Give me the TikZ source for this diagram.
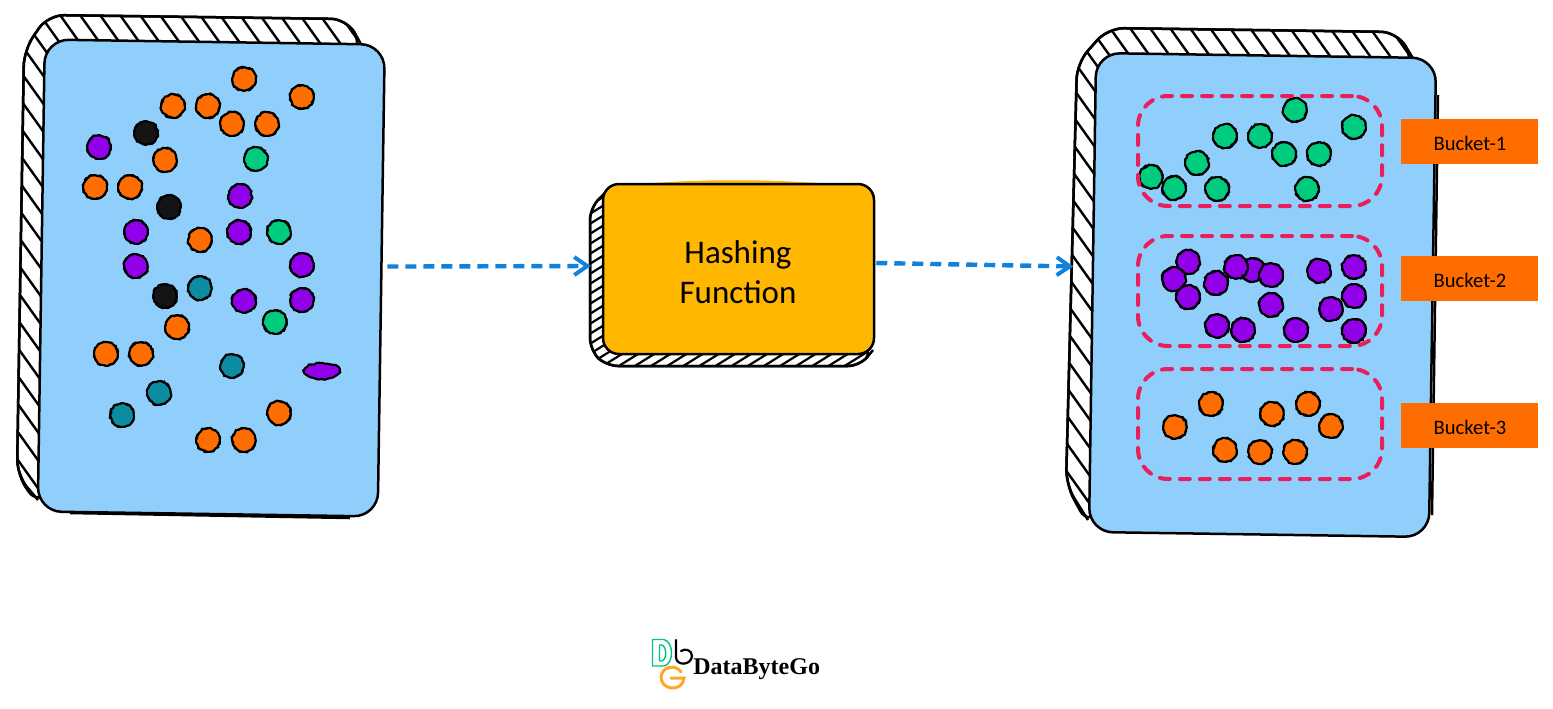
\documentclass[tikz,border=0pt]{standalone}
\usepackage{fontspec}
\setmainfont{Liberation Serif}
\newfontfamily\sketchfont{Carlito}
\usetikzlibrary{arrows.meta,calc,decorations.pathmorphing,shapes.geometric}
\definecolor{panelblue}{HTML}{90CFFC}
\definecolor{amberbox}{HTML}{FFB700}
\definecolor{dotgreen}{HTML}{00CC80}
\definecolor{dotpurple}{HTML}{9100E8}
\definecolor{dotorange}{HTML}{FF6D00}
\definecolor{dotteal}{HTML}{0C8CA0}
\definecolor{dotblack}{HTML}{141414}
\definecolor{bucketred}{HTML}{E91E5A}
\definecolor{flowblue}{HTML}{1281D9}
\definecolor{logogreen}{HTML}{00C27A}
\definecolor{logoorange}{HTML}{FFA726}
\tikzset{
  sketchline/.style={line width=1.25pt,draw=black,line join=round},
  hatchline/.style={line width=1.2pt,draw=black},
  panelbox/.style={sketchline,fill=panelblue,rectangle,rounded corners=12pt,inner sep=0pt,minimum width=170pt,rotate=-0.85},
  ball/.style={circle,inner sep=0pt,minimum size=11.6pt,line width=1.05pt,draw=black,
    decorate,decoration={random steps,segment length=1.3pt,amplitude=.4pt}},
  roughring/.style={line width=.7pt,draw=black,decorate,decoration={random steps,segment length=1.1pt,amplitude=.45pt}},
  bucketzone/.style={rectangle,rounded corners=15pt,inner sep=0pt,minimum width=122pt,minimum height=55pt,
    draw=bucketred,line width=2pt,dash pattern=on 5pt off 5pt,line cap=round},
  bucketlabel/.style={rectangle,fill=dotorange,inner sep=0pt,minimum width=68.5pt,minimum height=22.5pt},
  labeltext/.style={inner sep=0pt,font=\sketchfont\fontsize{10.3}{12}\selectfont},
  flow/.style={draw=flowblue,line width=2.2pt,dash pattern=on 5.5pt off 3.5pt,-{Straight Barb[length=6.5pt,width=9pt,line width=2pt]}},
  shade edge/.style={sketchline,fill=white,rounded corners=8pt},
}
\newcommand{\balls}[3]{\foreach \px/\py [count=\n] in {#3}{\node[ball,fill=#1] (#2\n) at (\px,\py) {};\draw[roughring] (#2\n.center) circle[radius=5.9pt];}}
\begin{document}
\begin{tikzpicture}[x=0.5pt,y=-0.5pt]
\useasboundingbox (0,0) rectangle (1553,708);

% left hatched edge
\path[shade edge] (362,46) -- (347,19) -- (48,15) -- (24,50) -- (17,475) -- (38,505) -- cycle;
\begin{scope}
  \clip[rounded corners=8pt] (362,46) -- (347,19) -- (48,15) -- (24,50) -- (17,475) -- (38,505) -- cycle;
  \foreach \k in {-15,...,19}{\draw[hatchline] (0,{-69+28*\k}) -- (400,{-69+28*\k+560});}
\end{scope}
\draw[sketchline,rounded corners=8pt] (362,46) -- (347,19) -- (48,15) -- (24,50) -- (17,475) -- (38,500);
\draw[sketchline] (70,513) -- (350,518);
\node[panelbox,minimum height=236pt] (source) at (211.25,278) {};

% right hatched edge
\path[shade edge] (1414,60) -- (1397,32) -- (1108,28) -- (1077,63) -- (1066,485) -- (1088,525) -- cycle;
\begin{scope}
  \clip[rounded corners=8pt] (1414,60) -- (1397,32) -- (1108,28) -- (1077,63) -- (1066,485) -- (1088,525) -- cycle;
  \foreach \k in {-15,...,20}{\draw[hatchline] (1050,{-56+28*\k}) -- (1450,{-56+28*\k+560});}
\end{scope}
\draw[sketchline,rounded corners=8pt] (1414,60) -- (1397,32) -- (1108,28) -- (1077,63) -- (1066,485) -- (1088,520);
\draw[sketchline] (1438,95) -- (1432,515);
\node[panelbox,minimum height=239.5pt] (target) at (1262.5,295) {};

% hashing box
\path[shade edge,rounded corners=6pt] (606,192) -- (590,208) -- (590,350) -- (606,366) -- (860,366) -- (873,350) -- cycle;
\begin{scope}
  \clip[rounded corners=6pt] (606,192) -- (590,208) -- (590,350) -- (606,366) -- (860,366) -- (873,350) -- cycle;
  \foreach \k in {0,...,38}{\draw[hatchline,line width=1.1pt] (580,{190+10*\k}) -- (880,{190+10*\k-186});}
\end{scope}
\draw[sketchline,rounded corners=6pt] (606,192) -- (590,208) -- (590,350) -- (606,366) -- (860,366) -- (873,350);
\fill[amberbox] (640,184) .. controls (700,179) and (770,179) .. (830,184) -- cycle;
\node[sketchline,fill=amberbox,rectangle,rounded corners=8pt,inner sep=0pt,minimum width=135.5pt,minimum height=85pt] (hash) at (738.5,269) {};
\node[align=center,inner sep=0pt,font=\sketchfont\fontsize{16.5}{20}\selectfont] (hashtext) at (738,272) {Hashing\\Function};

% dots in the source set
\balls{dotorange}{so}{244/79,173/106,208/106,232/124,267/124,302/97,165/160,95/187,130/187,200/240,177/327,106/354,141/354,279/413,208/440,244/440}
\balls{dotblack}{sk}{146/133,169/207,165/296}
\balls{dotpurple}{sp}{99/147,240/196,136/232,239/232,136/266,302/265,244/301,302/300}
\node[ball,fill=dotpurple,minimum size=0pt,ellipse,minimum width=18pt,minimum height=8pt] (lonepurple) at (322,371) {};
\balls{dotgreen}{sg}{256/159,279/232,275/322}
\balls{dotteal}{st}{200/288,232/366,159/393,122/415}

% dots in the buckets
\balls{dotgreen}{g}{1295/110,1354/127,1225/136,1260/136,1284/154,1319/154,1197/163,1151/177,1174/188,1217/189,1307/189}
\balls{dotpurple}{p}{1253/270,1188/262,1174/279,1188/297,1216/283,1236/267,1271/275,1319/271,1354/267,1354/296,1331/309,1271/305,1217/326,1243/330,1296/330,1354/331}
\balls{dotorange}{o}{1211/404,1175/427,1272/414,1308/404,1331/426,1225/450,1260/452,1295/452}

% bucket outlines and labels
\node[bucketzone] (zone1) at (1260,151) {};
\node[bucketzone] (zone2) at (1260,291) {};
\node[bucketzone] (zone3) at (1260,424) {};
\node[bucketlabel] (label1) at (1469.5,141.5) {};
\node[bucketlabel] (label2) at (1469.5,278.5) {};
\node[bucketlabel] (label3) at (1469.5,425.5) {};
\node[labeltext] (text1) at (1470,143.5) {Bucket-1};
\node[labeltext] (text2) at (1470,280) {Bucket-2};
\node[labeltext] (text3) at (1470,427.5) {Bucket-3};

% flows
\draw[flow] ($(source.east)+(5,-14)$) -- ($(hash.west)+(-11,-3)$);
\draw[flow] ($(hash.east)+(1,-6)$) -- ($(target.west)+(-18,-26)$);

% logo
\draw[logogreen,line width=.7pt,line join=round] (652.5,639.5) -- (664,639.5) .. controls (674,642) and (674,664) .. (664,666) -- (652.5,666) -- cycle;
\draw[logogreen,line width=.7pt,line join=round] (659.5,645) -- (662,645) .. controls (667,647) and (667,659) .. (662,661) -- (659.5,661) -- cycle;
\draw[black,line width=1.1pt,line cap=round] (676,640) -- (676,657) .. controls (676,666) and (691,666) .. (692,656) .. controls (692,650) and (685,648) .. (681,651);
\draw[logoorange,line width=1.5pt,line cap=round] (681,672) .. controls (676,664) and (662,666) .. (661,677) .. controls (661,691) and (683,692) .. (684,678) -- (671,678);
\node[font=\bfseries\fontsize{12}{14}\selectfont,inner sep=0pt,anchor=west] (logotext) at (693,669) {DataByteGo};
\end{tikzpicture}
\end{document}
